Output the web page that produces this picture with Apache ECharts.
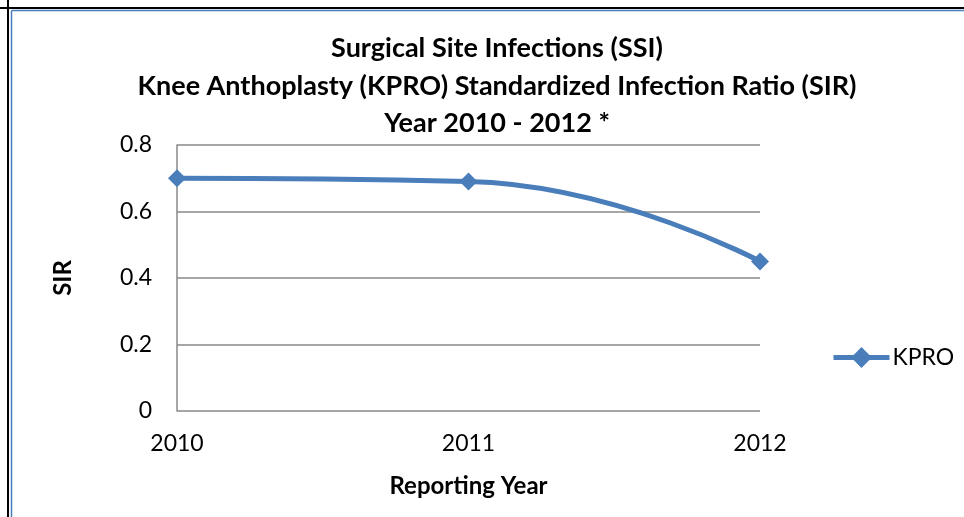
<!DOCTYPE html>
<html>
<head>
<meta charset="utf-8">
<script src="https://cdn.jsdelivr.net/npm/echarts@6/dist/echarts.min.js"></script>
<style>
  html, body { margin: 0; padding: 0; background: #fff; }
  #chart { width: 964px; height: 517px; }
</style>
</head>
<body>
<div id="chart"></div>
<script>
var years = ['2010', '2011', '2012'];
var kproSir = [0.70, 0.69, 0.45];
var yTicks = [0, 0.2, 0.4, 0.6, 0.8];

var font = 'Lato, "Open Sans", sans-serif';
var chart = echarts.init(document.getElementById('chart'));

var option = {
  backgroundColor: '#fff',
  animation: false,
  title: {
    text: 'Surgical Site Infections (SSI)\nKnee Anthoplasty (KPRO) Standardized Infection Ratio (SIR)\nYear 2010 - 2012 *',
    left: 492,
    textAlign: 'center',
    top: 25,
    textStyle: {
      fontFamily: font,
      fontWeight: 'bold',
      fontSize: 27,
      lineHeight: 37.5,
      color: '#000'
    }
  },
  legend: {
    data: ['KPRO'],
    orient: 'vertical',
    left: 826,
    top: 341,
    itemWidth: 56,
    itemHeight: 26,
    itemGap: 4,
    lineStyle: { width: 5 },
    textStyle: { fontFamily: font, fontSize: 23, color: '#000', padding: [0, 0, 0, -2] }
  },
  grid: { left: 177, right: 204, top: 145, bottom: 106, containLabel: false },
  xAxis: {
    type: 'category',
    data: years,
    boundaryGap: false,
    name: 'Reporting Year',
    nameLocation: 'middle',
    nameGap: 63,
    nameTextStyle: { fontFamily: font, fontWeight: 'bold', fontSize: 24, color: '#000' },
    axisLine: { show: false },
    axisTick: { show: false },
    axisLabel: { fontFamily: font, fontSize: 23, color: '#000', margin: 21 },
    splitLine: { show: false }
  },
  yAxis: {
    type: 'value',
    min: 0,
    max: 0.8,
    interval: 0.2,
    name: 'SIR',
    nameLocation: 'middle',
    nameGap: 102,
    nameTextStyle: { fontFamily: font, fontWeight: 'bold', fontSize: 24, color: '#000' },
    axisLine: { show: true, lineStyle: { color: '#888', width: 1.5 } },
    axisTick: { show: false },
    axisLabel: {
      fontFamily: font, fontSize: 23, color: '#000', margin: 25,
      formatter: function (v) { return yTicks.indexOf(Math.round(v * 10) / 10) >= 0 ? String(Math.round(v * 10) / 10) : ''; }
    },
    splitLine: { show: true, lineStyle: { color: '#888', width: 1.5 } }
  },
  series: [{
    name: 'KPRO',
    type: 'line',
    data: kproSir,
    smooth: 0.5,
    symbol: 'diamond',
    symbolSize: 18,
    lineStyle: { color: '#4A7EBB', width: 5 },
    itemStyle: { color: '#4A7EBB' }
  }],
  graphic: [
    { type: 'line', shape: { x1: 8, y1: 0, x2: 8, y2: 517 }, style: { stroke: '#000', lineWidth: 2 } },
    { type: 'line', shape: { x1: 0, y1: 8, x2: 964, y2: 8 }, style: { stroke: '#000', lineWidth: 2 } },
    { type: 'line', shape: { x1: 11.5, y1: 10.5, x2: 11.5, y2: 517 }, style: { stroke: '#4A7EBB', lineWidth: 1.5 } },
    { type: 'line', shape: { x1: 11.5, y1: 10.5, x2: 964, y2: 10.5 }, style: { stroke: '#4A7EBB', lineWidth: 1.5 } }
  ]
};

chart.setOption(option);
</script>
</body>
</html>
